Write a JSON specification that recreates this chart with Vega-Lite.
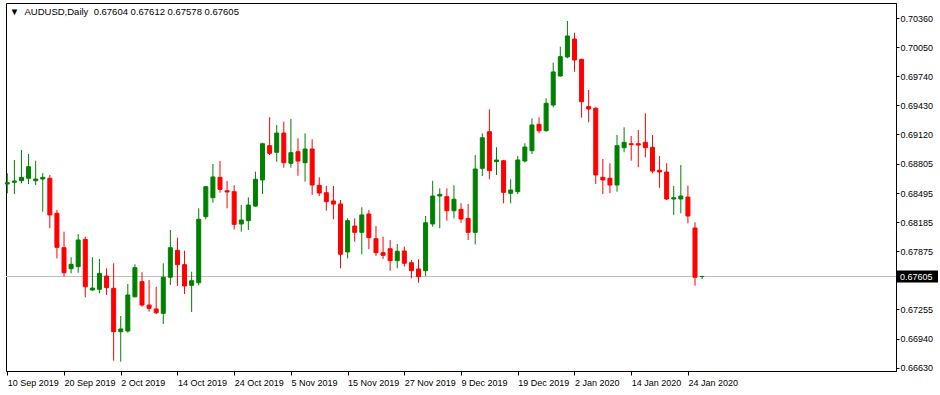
{
"$schema": "https://vega.github.io/schema/vega-lite/v6.json",
"width": 890, "height": 368,
"autosize": "none",
"padding": {"left": 6, "top": 3, "right": 44, "bottom": 24},
"background": "white",
"view": {"stroke": "#000000", "strokeWidth": 1, "fill": "white"},
"config": {"axis": {"labelOverlap": false, "labelFlush": false, "grid": false}, "axisY": {"labelOverlap": false}, "axisRight": {"labelOverlap": false}},
"title": {"text": "▼\u00a0\u00a0AUDUSD,Daily\u00a0 0.67604 0.67612 0.67578 0.67605", "anchor": "start", "offset": -13, "dx": 5, "fontSize": 9.5, "fontWeight": "normal", "font": "Liberation Sans", "color": "#000000"},
"datasets": {"candles": [
{"date":"10 Sep 2019","open":0.68591,"high":0.68705,"low":0.68492,"close":0.68605},
{"date":"11 Sep 2019","open":0.68609,"high":0.68847,"low":0.68484,"close":0.68623},
{"date":"12 Sep 2019","open":0.68626,"high":0.68953,"low":0.68598,"close":0.68662},
{"date":"13 Sep 2019","open":0.68652,"high":0.68911,"low":0.68591,"close":0.68775},
{"date":"16 Sep 2019","open":0.68626,"high":0.68839,"low":0.68580,"close":0.68644},
{"date":"17 Sep 2019","open":0.68644,"high":0.68707,"low":0.68296,"close":0.68662},
{"date":"18 Sep 2019","open":0.68652,"high":0.68687,"low":0.68119,"close":0.68261},
{"date":"19 Sep 2019","open":0.68279,"high":0.68314,"low":0.67799,"close":0.67916},
{"date":"20 Sep 2019","open":0.67912,"high":0.68083,"low":0.67603,"close":0.67645},
{"date":"23 Sep 2019","open":0.67688,"high":0.67810,"low":0.67639,"close":0.67735},
{"date":"24 Sep 2019","open":0.67710,"high":0.68058,"low":0.67645,"close":0.67994},
{"date":"25 Sep 2019","open":0.68001,"high":0.68030,"low":0.67383,"close":0.67496},
{"date":"26 Sep 2019","open":0.67461,"high":0.67810,"low":0.67454,"close":0.67482},
{"date":"27 Sep 2019","open":0.67469,"high":0.67792,"low":0.67426,"close":0.67639},
{"date":"30 Sep 2019","open":0.67610,"high":0.67692,"low":0.67408,"close":0.67486},
{"date":"1 Oct 2019","open":0.67479,"high":0.67746,"low":0.66708,"close":0.67017},
{"date":"2 Oct 2019","open":0.67017,"high":0.67184,"low":0.66697,"close":0.67046},
{"date":"3 Oct 2019","open":0.67024,"high":0.67525,"low":0.67006,"close":0.67408},
{"date":"4 Oct 2019","open":0.67389,"high":0.67735,"low":0.67383,"close":0.67699},
{"date":"7 Oct 2019","open":0.67550,"high":0.67650,"low":0.67283,"close":0.67301},
{"date":"8 Oct 2019","open":0.67301,"high":0.67568,"low":0.67230,"close":0.67266},
{"date":"9 Oct 2019","open":0.67259,"high":0.67496,"low":0.67205,"close":0.67219},
{"date":"10 Oct 2019","open":0.67213,"high":0.67746,"low":0.67099,"close":0.67597},
{"date":"11 Oct 2019","open":0.67597,"high":0.68101,"low":0.67515,"close":0.67912},
{"date":"14 Oct 2019","open":0.67884,"high":0.68019,"low":0.67504,"close":0.67731},
{"date":"15 Oct 2019","open":0.67731,"high":0.67880,"low":0.67419,"close":0.67504},
{"date":"16 Oct 2019","open":0.67511,"high":0.67656,"low":0.67227,"close":0.67560},
{"date":"17 Oct 2019","open":0.67539,"high":0.68332,"low":0.67511,"close":0.68215},
{"date":"18 Oct 2019","open":0.68243,"high":0.68570,"low":0.68215,"close":0.68562},
{"date":"21 Oct 2019","open":0.68445,"high":0.68804,"low":0.68392,"close":0.68666},
{"date":"22 Oct 2019","open":0.68662,"high":0.68836,"low":0.68498,"close":0.68534},
{"date":"23 Oct 2019","open":0.68519,"high":0.68623,"low":0.68332,"close":0.68506},
{"date":"24 Oct 2019","open":0.68509,"high":0.68577,"low":0.68108,"close":0.68161},
{"date":"25 Oct 2019","open":0.68165,"high":0.68367,"low":0.68083,"close":0.68207},
{"date":"28 Oct 2019","open":0.68200,"high":0.68449,"low":0.68101,"close":0.68367},
{"date":"29 Oct 2019","open":0.68356,"high":0.68722,"low":0.68349,"close":0.68641},
{"date":"30 Oct 2019","open":0.68634,"high":0.69031,"low":0.68484,"close":0.69020},
{"date":"31 Oct 2019","open":0.68999,"high":0.69302,"low":0.68900,"close":0.68918},
{"date":"1 Nov 2019","open":0.68929,"high":0.69220,"low":0.68829,"close":0.69134},
{"date":"4 Nov 2019","open":0.69134,"high":0.69255,"low":0.68765,"close":0.68818},
{"date":"5 Nov 2019","open":0.68812,"high":0.69284,"low":0.68765,"close":0.68925},
{"date":"6 Nov 2019","open":0.68935,"high":0.69078,"low":0.68679,"close":0.68836},
{"date":"7 Nov 2019","open":0.68818,"high":0.69131,"low":0.68616,"close":0.68964},
{"date":"8 Nov 2019","open":0.68964,"high":0.69068,"low":0.68474,"close":0.68580},
{"date":"11 Nov 2019","open":0.68577,"high":0.68662,"low":0.68463,"close":0.68495},
{"date":"12 Nov 2019","open":0.68498,"high":0.68570,"low":0.68306,"close":0.68402},
{"date":"13 Nov 2019","open":0.68410,"high":0.68570,"low":0.68215,"close":0.68377},
{"date":"14 Nov 2019","open":0.68378,"high":0.68420,"low":0.67692,"close":0.67842},
{"date":"15 Nov 2019","open":0.67867,"high":0.68225,"low":0.67799,"close":0.68200},
{"date":"18 Nov 2019","open":0.68143,"high":0.68225,"low":0.67976,"close":0.68076},
{"date":"19 Nov 2019","open":0.68076,"high":0.68343,"low":0.67842,"close":0.68261},
{"date":"20 Nov 2019","open":0.68271,"high":0.68314,"low":0.67895,"close":0.68019},
{"date":"21 Nov 2019","open":0.68008,"high":0.68143,"low":0.67824,"close":0.67859},
{"date":"22 Nov 2019","open":0.67859,"high":0.68030,"low":0.67792,"close":0.67831},
{"date":"25 Nov 2019","open":0.67901,"high":0.67994,"low":0.67667,"close":0.67774},
{"date":"26 Nov 2019","open":0.67774,"high":0.67951,"low":0.67692,"close":0.67874},
{"date":"27 Nov 2019","open":0.67877,"high":0.67923,"low":0.67710,"close":0.67746},
{"date":"28 Nov 2019","open":0.67752,"high":0.67781,"low":0.67586,"close":0.67667},
{"date":"29 Nov 2019","open":0.67685,"high":0.67788,"low":0.67539,"close":0.67603},
{"date":"2 Dec 2019","open":0.67667,"high":0.68250,"low":0.67610,"close":0.68178},
{"date":"3 Dec 2019","open":0.68165,"high":0.68626,"low":0.68136,"close":0.68463},
{"date":"4 Dec 2019","open":0.68463,"high":0.68545,"low":0.68119,"close":0.68481},
{"date":"5 Dec 2019","open":0.68456,"high":0.68545,"low":0.68200,"close":0.68306},
{"date":"6 Dec 2019","open":0.68306,"high":0.68577,"low":0.68225,"close":0.68428},
{"date":"9 Dec 2019","open":0.68321,"high":0.68385,"low":0.68178,"close":0.68218},
{"date":"10 Dec 2019","open":0.68225,"high":0.68378,"low":0.67994,"close":0.68076},
{"date":"11 Dec 2019","open":0.68076,"high":0.68900,"low":0.67947,"close":0.68751},
{"date":"12 Dec 2019","open":0.68758,"high":0.69131,"low":0.68676,"close":0.69084},
{"date":"13 Dec 2019","open":0.69148,"high":0.69387,"low":0.68641,"close":0.68733},
{"date":"16 Dec 2019","open":0.68829,"high":0.68982,"low":0.68687,"close":0.68847},
{"date":"17 Dec 2019","open":0.68839,"high":0.68847,"low":0.68385,"close":0.68502},
{"date":"18 Dec 2019","open":0.68492,"high":0.68641,"low":0.68385,"close":0.68527},
{"date":"19 Dec 2019","open":0.68509,"high":0.68889,"low":0.68484,"close":0.68847},
{"date":"20 Dec 2019","open":0.68836,"high":0.69025,"low":0.68822,"close":0.68985},
{"date":"23 Dec 2019","open":0.68946,"high":0.69291,"low":0.68911,"close":0.69220},
{"date":"24 Dec 2019","open":0.69227,"high":0.69302,"low":0.69131,"close":0.69159},
{"date":"26 Dec 2019","open":0.69159,"high":0.69504,"low":0.69148,"close":0.69451},
{"date":"27 Dec 2019","open":0.69433,"high":0.69884,"low":0.69408,"close":0.69785},
{"date":"30 Dec 2019","open":0.69742,"high":0.70054,"low":0.69735,"close":0.69948},
{"date":"31 Dec 2019","open":0.69945,"high":0.70328,"low":0.69931,"close":0.70168},
{"date":"2 Jan 2020","open":0.70136,"high":0.70203,"low":0.69788,"close":0.69913},
{"date":"3 Jan 2020","open":0.69920,"high":0.69923,"low":0.69298,"close":0.69468},
{"date":"6 Jan 2020","open":0.69415,"high":0.69593,"low":0.69249,"close":0.69390},
{"date":"7 Jan 2020","open":0.69398,"high":0.69408,"low":0.68591,"close":0.68687},
{"date":"8 Jan 2020","open":0.68662,"high":0.68857,"low":0.68484,"close":0.68634},
{"date":"9 Jan 2020","open":0.68652,"high":0.68812,"low":0.68492,"close":0.68580},
{"date":"10 Jan 2020","open":0.68580,"high":0.69113,"low":0.68509,"close":0.68999},
{"date":"13 Jan 2020","open":0.68978,"high":0.69195,"low":0.68929,"close":0.69035},
{"date":"14 Jan 2020","open":0.69020,"high":0.69103,"low":0.68839,"close":0.69010},
{"date":"15 Jan 2020","open":0.69020,"high":0.69166,"low":0.68769,"close":0.69006},
{"date":"16 Jan 2020","open":0.69035,"high":0.69344,"low":0.68875,"close":0.68978},
{"date":"17 Jan 2020","open":0.68982,"high":0.69113,"low":0.68705,"close":0.68729},
{"date":"20 Jan 2020","open":0.68737,"high":0.68889,"low":0.68551,"close":0.68719},
{"date":"21 Jan 2020","open":0.68719,"high":0.68812,"low":0.68420,"close":0.68431},
{"date":"22 Jan 2020","open":0.68431,"high":0.68570,"low":0.68261,"close":0.68445},
{"date":"23 Jan 2020","open":0.68431,"high":0.68794,"low":0.68279,"close":0.68463},
{"date":"24 Jan 2020","open":0.68452,"high":0.68573,"low":0.68172,"close":0.68250},
{"date":"27 Jan 2020","open":0.68122,"high":0.68183,"low":0.67507,"close":0.67597},
{"date":"28 Jan 2020","open":0.67604,"high":0.67612,"low":0.67578,"close":0.67605}
],
"last": [{"price": 0.67605, "label": "0.67605"}]},
"layer": [
{"data": {"name": "last"},
 "mark": {"type": "rule", "color": "#c0c0c0", "strokeWidth": 1},
 "encoding": {"y": {"field": "price", "type": "quantitative", "scale": {"domain": [0.66598, 0.70520], "nice": false, "zero": false},
   "axis": {"orient": "right", "values": [0.70360,0.70050,0.69740,0.69430,0.69120,0.68805,0.68495,0.68185,0.67875,0.67255,0.66940,0.66630], "format": ".5f", "title": null, "tickSize": 3, "tickColor": "#000000", "domainColor": "#000000", "labelColor": "#000000", "labelFontSize": 9, "labelFont": "Liberation Sans", "labelPadding": 1, "grid": false, "labelOverlap": false, "labelFlush": false, "labelSeparation": 0}}}},
{"data": {"name": "candles"},
 "mark": {"type": "rule", "strokeWidth": 1},
 "encoding": {
  "x": {"field": "date", "type": "ordinal", "sort": null, "scale": {"type": "point", "range": [1.3, 696.1], "padding": 0},
   "axis": {"values": ["10 Sep 2019","20 Sep 2019","2 Oct 2019","14 Oct 2019","24 Oct 2019","5 Nov 2019","15 Nov 2019","27 Nov 2019","9 Dec 2019","19 Dec 2019","2 Jan 2020","14 Jan 2020","24 Jan 2020"],
    "title": null, "labelAngle": 0, "labelAlign": "left", "labelBaseline": "top", "labelPadding": 3, "labelOffset": 0, "tickSize": 4, "tickColor": "#000000", "domainColor": "#000000", "labelColor": "#000000", "labelFontSize": 9, "labelFont": "Liberation Sans", "labelOverlap": false, "labelFlush": false, "grid": false}},
  "y": {"field": "low", "type": "quantitative", "scale": {"domain": [0.66598, 0.70520], "nice": false, "zero": false},
   "axis": {"orient": "right", "values": [0.70360,0.70050,0.69740,0.69430,0.69120,0.68805,0.68495,0.68185,0.67875,0.67255,0.66940,0.66630], "format": ".5f", "title": null, "tickSize": 3, "tickColor": "#000000", "domainColor": "#000000", "labelColor": "#000000", "labelFontSize": 9, "labelFont": "Liberation Sans", "labelPadding": 1, "grid": false, "labelOverlap": false, "labelFlush": false, "labelSeparation": 0}},
  "y2": {"field": "high"},
  "color": {"condition": {"test": "datum.close >= datum.open", "value": "#008000"}, "value": "#ff0000"}
 }},
{"data": {"name": "candles"},
 "mark": {"type": "bar", "size": 4, "strokeWidth": 1},
 "encoding": {
  "x": {"field": "date", "type": "ordinal", "sort": null, "scale": {"type": "point", "range": [1.3, 696.1], "padding": 0}},
  "y": {"field": "open", "type": "quantitative", "scale": {"domain": [0.66598, 0.70520], "nice": false, "zero": false},
   "axis": {"orient": "right", "values": [0.70360,0.70050,0.69740,0.69430,0.69120,0.68805,0.68495,0.68185,0.67875,0.67255,0.66940,0.66630], "format": ".5f", "title": null, "tickSize": 3, "tickColor": "#000000", "domainColor": "#000000", "labelColor": "#000000", "labelFontSize": 9, "labelFont": "Liberation Sans", "labelPadding": 1, "grid": false, "labelOverlap": false, "labelFlush": false, "labelSeparation": 0}},
  "y2": {"field": "close"},
  "color": {"condition": {"test": "datum.close >= datum.open", "value": "#008000"}, "value": "#ff0000"},
  "stroke": {"condition": {"test": "datum.close >= datum.open", "value": "#008000"}, "value": "#ff0000"}
 }},
{"data": {"name": "last"},
 "mark": {"type": "rect", "color": "#000000", "height": 12},
 "encoding": {"x": {"value": 891}, "x2": {"value": 932},
  "y": {"field": "price", "type": "quantitative",
   "axis": {"orient": "right", "values": [0.70360,0.70050,0.69740,0.69430,0.69120,0.68805,0.68495,0.68185,0.67875,0.67255,0.66940,0.66630], "format": ".5f", "title": null, "tickSize": 3, "tickColor": "#000000", "domainColor": "#000000", "labelColor": "#000000", "labelFontSize": 9, "labelFont": "Liberation Sans", "labelPadding": 1, "grid": false, "labelOverlap": false, "labelFlush": false, "labelSeparation": 0}}}},
{"data": {"name": "last"},
 "mark": {"type": "text", "color": "#ffffff", "align": "left", "baseline": "middle", "fontSize": 9, "font": "Liberation Sans"},
 "encoding": {"x": {"value": 894},
  "y": {"field": "price", "type": "quantitative",
   "axis": {"orient": "right", "values": [0.70360,0.70050,0.69740,0.69430,0.69120,0.68805,0.68495,0.68185,0.67875,0.67255,0.66940,0.66630], "format": ".5f", "title": null, "tickSize": 3, "tickColor": "#000000", "domainColor": "#000000", "labelColor": "#000000", "labelFontSize": 9, "labelFont": "Liberation Sans", "labelPadding": 1, "grid": false, "labelOverlap": false, "labelFlush": false, "labelSeparation": 0}},
  "text": {"field": "label"}}}
]
}
